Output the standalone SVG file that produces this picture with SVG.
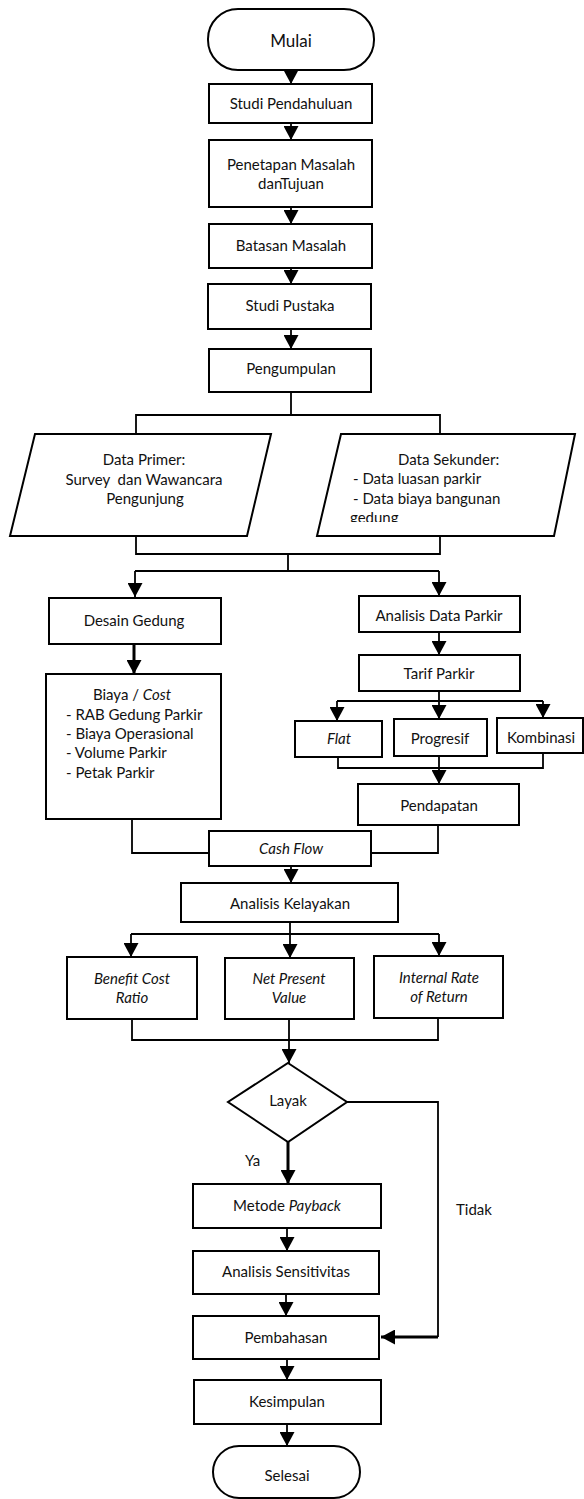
<svg xmlns="http://www.w3.org/2000/svg" width="584" height="1499" viewBox="0 0 584 1499">
<style>
.box{fill:#fff;stroke:#000;stroke-width:2}
.ln{fill:none;stroke:#000;stroke-width:1.8}
.thk{fill:none;stroke:#000;stroke-width:3}
.t{font-family:Lato,"Liberation Sans",sans-serif;font-size:15px;fill:#111}
.c{text-anchor:middle}
.i{font-style:italic}
</style>
<defs>
<marker id="ah" markerUnits="userSpaceOnUse" markerWidth="14" markerHeight="15" refX="14" refY="7.5" orient="auto" viewBox="0 0 14 15">
<path d="M0,0 L14,7.5 L0,15 z" fill="#000"/>
</marker>
<clipPath id="clipSek"><rect x="300" y="430" width="284" height="92"/></clipPath>
</defs>
<rect width="584" height="1499" fill="#fff"/>

<g id="connectors">
<path class="ln" d="M291,70 V84" marker-end="url(#ah)"/>
<path class="ln" d="M291,123 V140" marker-end="url(#ah)"/>
<path class="ln" d="M291,207 V224" marker-end="url(#ah)"/>
<path class="ln" d="M291,268 V284" marker-end="url(#ah)"/>
<path class="ln" d="M291,329 V349" marker-end="url(#ah)"/>
<path class="ln" d="M291,392 V415 M136,434 V415 H440 V434"/>
<path class="ln" d="M136,536 V554 H440 V536 M288,554 V571 M135,571 H439"/>
<path class="ln" d="M135,571 V597" marker-end="url(#ah)"/>
<path class="ln" d="M439,571 V596" marker-end="url(#ah)"/>
<path class="thk" d="M134,644 V674" marker-end="url(#ah)"/>
<path class="ln" d="M439,632 V655" marker-end="url(#ah)"/>
<path class="ln" d="M439,691 V701 M337,701 H543"/>
<path class="ln" d="M337,701 V721" marker-end="url(#ah)"/>
<path class="ln" d="M439,701 V719" marker-end="url(#ah)"/>
<path class="ln" d="M543,701 V718" marker-end="url(#ah)"/>
<path class="ln" d="M338,757 V768 H543 V753"/>
<path class="ln" d="M439,756 V784" marker-end="url(#ah)"/>
<path class="ln" d="M132,819 V853 H209"/>
<path class="ln" d="M438,825 V853 H371"/>
<path class="ln" d="M291,866 V883" marker-end="url(#ah)"/>
<path class="ln" d="M290,922 V934 M131,934 H439"/>
<path class="ln" d="M131,934 V957" marker-end="url(#ah)"/>
<path class="ln" d="M290,934 V958" marker-end="url(#ah)"/>
<path class="ln" d="M439,934 V956" marker-end="url(#ah)"/>
<path class="ln" d="M132,1019 V1040 H438 V1018"/>
<path class="ln" d="M289,1019 V1063" marker-end="url(#ah)"/>
<path class="thk" d="M288,1142 V1184" marker-end="url(#ah)"/>
<path class="ln" d="M347,1102 H438 V1337"/>
<path class="thk" d="M438,1337 H381" marker-end="url(#ah)"/>
<path class="ln" d="M287,1228 V1251" marker-end="url(#ah)"/>
<path class="ln" d="M286,1294 V1316" marker-end="url(#ah)"/>
<path class="ln" d="M287,1359 V1380" marker-end="url(#ah)"/>
<path class="ln" d="M287,1424 V1446" marker-end="url(#ah)"/>
<text class="t" x="245" y="1166">Ya</text>
<text class="t" x="456" y="1215">Tidak</text>
</g>

<g id="mulai">
<rect class="box" x="208" y="9" width="166" height="61" rx="30"/>
<text class="t c" x="291" y="47" style="font-size:17px">Mulai</text>
</g>
<g id="studi-pendahuluan">
<rect class="box" x="209" y="84" width="163" height="39"/>
<text class="t c" x="291" y="108.5">Studi Pendahuluan</text>
</g>
<g id="penetapan">
<rect class="box" x="209" y="140" width="163" height="67"/>
<text class="t c" x="291" y="170">Penetapan Masalah</text>
<text class="t c" x="291" y="189">danTujuan</text>
</g>
<g id="batasan">
<rect class="box" x="209" y="224" width="163" height="44"/>
<text class="t c" x="291" y="251">Batasan Masalah</text>
</g>
<g id="studi-pustaka">
<rect class="box" x="208" y="284" width="163" height="45"/>
<text class="t c" x="290" y="311">Studi Pustaka</text>
</g>
<g id="pengumpulan">
<rect class="box" x="209" y="349" width="162" height="43"/>
<text class="t c" x="291" y="374">Pengumpulan</text>
</g>
<g id="data-primer">
<polygon class="box" points="35,434 271,434 247,536 10,536"/>
<text class="t c" x="144" y="465">Data Primer:</text>
<text class="t c" x="144" y="485" xml:space="preserve">Survey  dan Wawancara</text>
<text class="t c" x="145" y="504">Pengunjung</text>
</g>
<g id="data-sekunder">
<polygon class="box" points="341,434 575,434 554,536 317,536"/>
<g clip-path="url(#clipSek)">
<text class="t" x="398" y="465">Data Sekunder:</text>
<text class="t" x="353" y="484">- Data luasan parkir</text>
<text class="t" x="353" y="504">- Data biaya bangunan</text>
<text class="t" x="350" y="523">gedung</text>
</g>
</g>
<g id="desain-gedung">
<rect class="box" x="49" y="598" width="172" height="46"/>
<text class="t c" x="134" y="626">Desain Gedung</text>
</g>
<g id="biaya">
<rect class="box" x="46" y="674" width="175" height="145"/>
<text class="t c" x="132" y="700">Biaya / <tspan class="i">Cost</tspan></text>
<text class="t" x="66" y="720">- RAB Gedung Parkir</text>
<text class="t" x="66" y="739">- Biaya Operasional</text>
<text class="t" x="66" y="758">- Volume Parkir</text>
<text class="t" x="66" y="778">- Petak Parkir</text>
</g>
<g id="analisis-data-parkir">
<rect class="box" x="359" y="596" width="161" height="36"/>
<text class="t c" x="439" y="621">Analisis Data Parkir</text>
</g>
<g id="tarif-parkir">
<rect class="box" x="359" y="655" width="161" height="36"/>
<text class="t c" x="439" y="679">Tarif Parkir</text>
</g>
<g id="flat">
<rect class="box" x="295" y="721" width="87" height="36"/>
<text class="t c i" x="339" y="744">Flat</text>
</g>
<g id="progresif">
<rect class="box" x="394" y="719" width="93" height="37"/>
<text class="t c" x="440" y="744">Progresif</text>
</g>
<g id="kombinasi">
<rect class="box" x="497" y="718" width="86" height="35"/>
<text class="t c" x="541" y="743">Kombinasi</text>
</g>
<g id="pendapatan">
<rect class="box" x="358" y="784" width="161" height="41"/>
<text class="t c" x="439" y="811">Pendapatan</text>
</g>
<g id="cash-flow">
<rect class="box" x="209" y="831" width="162" height="35"/>
<text class="t c i" x="291" y="854">Cash Flow</text>
</g>
<g id="analisis-kelayakan">
<rect class="box" x="181" y="883" width="217" height="39"/>
<text class="t c" x="290" y="909">Analisis Kelayakan</text>
</g>
<g id="bcr">
<rect class="box" x="67" y="957" width="130" height="62"/>
<text class="t c i" x="132" y="984">Benefit Cost</text>
<text class="t c i" x="132" y="1003">Ratio</text>
</g>
<g id="npv">
<rect class="box" x="225" y="958" width="129" height="61"/>
<text class="t c i" x="289" y="984">Net Present</text>
<text class="t c i" x="289" y="1003">Value</text>
</g>
<g id="irr">
<rect class="box" x="374" y="956" width="129" height="62"/>
<text class="t c i" x="439" y="983">Internal Rate</text>
<text class="t c i" x="439" y="1002">of Return</text>
</g>
<g id="layak">
<polygon class="box" points="288,1063 347,1102 288,1142 228,1102"/>
<text class="t c" x="288" y="1106">Layak</text>
</g>
<g id="metode-payback">
<rect class="box" x="193" y="1184" width="188" height="44"/>
<text class="t c" x="287" y="1211">Metode <tspan class="i">Payback</tspan></text>
</g>
<g id="analisis-sensitivitas">
<rect class="box" x="193" y="1251" width="186" height="43"/>
<text class="t c" x="286" y="1277">Analisis Sensitivitas</text>
</g>
<g id="pembahasan">
<rect class="box" x="193" y="1316" width="186" height="43"/>
<text class="t c" x="286" y="1343">Pembahasan</text>
</g>
<g id="kesimpulan">
<rect class="box" x="194" y="1380" width="187" height="44"/>
<text class="t c" x="287" y="1407">Kesimpulan</text>
</g>
<g id="selesai">
<rect class="box" x="213" y="1446" width="147" height="52" rx="26"/>
<text class="t c" x="287" y="1481">Selesai</text>
</g>
</svg>
